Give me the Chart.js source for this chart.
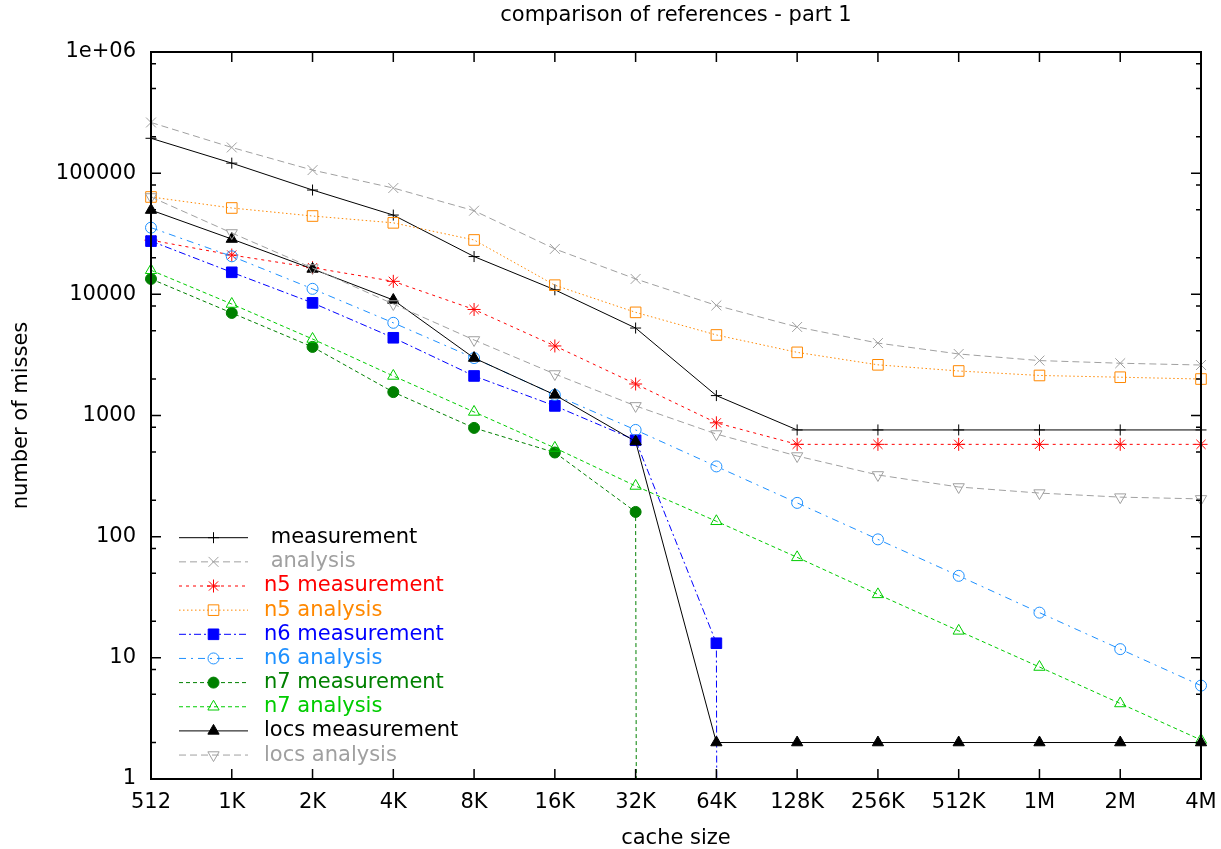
<!DOCTYPE html>
<html><head><meta charset="utf-8">
<script src="https://cdn.jsdelivr.net/npm/chart.js@4/dist/chart.umd.min.js"></script>
<style>html,body{margin:0;padding:0;background:#fff;}</style>
</head><body>
<canvas id="c" width="1221" height="849"></canvas>
<script>
// ---------- data ----------
const categories = ['512','1K','2K','4K','8K','16K','32K','64K','128K','256K','512K','1M','2M','4M'];
const measurement     = [194000,121000,72600,45100,20500,10900,5270,1460,760,760,760,760,760,760];
const analysis        = [262000,163000,106000,75400,49000,23700,13400,8100,5380,3960,3220,2840,2700,2610];
const n5Measurement   = [28000,21100,16600,12800,7500,3750,1820,870,578,578,578,578,578,578];
const n5Analysis      = [63600,51600,44300,38900,28100,11900,7100,4620,3320,2620,2330,2140,2070,2000];
const n6Measurement   = [27500,15200,8500,4380,2120,1200,625,13.2,0,null,null,null,null,null];
const n6Analysis      = [35500,20600,11100,5820,2980,1480,760,380,190,95,47.5,23.6,11.8,5.9];
const n7Measurement   = [13400,7020,3680,1560,790,495,160,0,null,null,null,null,null,null];
const n7Analysis      = [15800,8320,4280,2120,1070,540,262,134,67.5,33.4,16.7,8.4,4.2,2.1];
const locsMeasurement = [49600,28600,16200,8980,2980,1480,610,2,2,2,2,2,2,2];
const locsAnalysis    = [63600,32100,16500,8320,4200,2200,1200,703,463,323,257,229,212,205];
const yTickValues = [1,10,100,1000,10000,100000,1000000];
const yTickLabels = ['1','10','100','1000','10000','100000','1e+06'];
const yMinorSteps = [2,5,8];
const titleText = 'comparison of references - part 1';
const xTitle = 'cache size';
const yTitle = 'number of misses';

// zero misses: gnuplot sends the line toward -infinity on a log axis
const z = arr => arr.map(v => v === 0 ? 1e-300 : v);

const FONT = "'DejaVu Sans', 'Liberation Sans', sans-serif";
const GRAY = '#a0a0a0';
const series = [
  {label:' measurement', data:measurement, color:'#000000', dash:[], style:'cross', r:5.5, fill:false},
  {label:' analysis', data:analysis, color:GRAY, dash:[7,4], style:'crossRot', r:7, fill:false},
  {label:'n5 measurement', data:n5Measurement, color:'#ff0000', dash:[3,4], style:'star', r:6.5, fill:false},
  {label:'n5 analysis', data:n5Analysis, color:'#ff8800', dash:[1.5,2.5], style:'rect', r:7.5, fill:false},
  {label:'n6 measurement', data:n6Measurement, color:'#0000ff', dash:[7,3,2,3], style:'rect', r:7.5, fill:true},
  {label:'n6 analysis', data:n6Analysis, color:'#1e90ff', dash:[7,5,2,5], style:'circle', r:5.5, fill:false},
  {label:'n7 measurement', data:n7Measurement, color:'#008000', dash:[4,3], style:'circle', r:5.5, fill:true},
  {label:'n7 analysis', data:n7Analysis, color:'#00cc00', dash:[4,3], style:'triangle', r:6.5, fill:false},
  {label:'locs measurement', data:locsMeasurement, color:'#000000', dash:[], style:'triangle', r:6.5, fill:true},
  {label:'locs analysis', data:locsAnalysis, color:GRAY, dash:[7,4], style:'triangle', r:6.5, fill:false, rot:180},
];

const datasets = series.map((s,i) => ({
  label: s.label,
  data: z(s.data),
  borderColor: s.color,
  backgroundColor: s.fill ? s.color : 'rgba(0,0,0,0)',
  borderWidth: 1,
  borderDash: s.dash,
  pointStyle: s.style,
  pointRadius: s.r,
  pointRotation: s.rot || 0,
  pointBorderColor: s.color,
  pointBackgroundColor: s.fill ? s.color : 'rgba(0,0,0,0)',
  pointBorderWidth: 1,
  fill: false,
  tension: 0,
  order: -i,
  spanGaps: false
}));

const framePlugin = {
  id: 'frame',
  afterDatasetsDraw(chart) {
    const {ctx, chartArea: a, scales: {x, y}} = chart;
    ctx.save();
    ctx.strokeStyle = '#000';
    ctx.lineWidth = 1.5;
    ctx.setLineDash([]);
    ctx.beginPath();
    categories.forEach((c, i) => {
      const px = x.getPixelForValue(i);
      ctx.moveTo(px, a.bottom); ctx.lineTo(px, a.bottom - 10);
      ctx.moveTo(px, a.top); ctx.lineTo(px, a.top + 10);
    });
    yTickValues.forEach((v, k) => {
      const py = y.getPixelForValue(v);
      ctx.moveTo(a.left, py); ctx.lineTo(a.left + 10, py);
      ctx.moveTo(a.right, py); ctx.lineTo(a.right - 10, py);
      if (k < yTickValues.length - 1) {
        yMinorSteps.forEach(m => {
          const pm = y.getPixelForValue(v * m);
          ctx.moveTo(a.left, pm); ctx.lineTo(a.left + 5, pm);
          ctx.moveTo(a.right, pm); ctx.lineTo(a.right - 5, pm);
        });
      }
    });
    ctx.stroke();
    ctx.lineWidth = 2;
    ctx.strokeRect(a.left, a.top, a.right - a.left, a.bottom - a.top);
    // title centred over the plot area, as gnuplot does
    ctx.fillStyle = '#000';
    ctx.font = "21px " + FONT;
    ctx.textAlign = 'center';
    ctx.textBaseline = 'middle';
    ctx.fillText(titleText, (a.left + a.right) / 2, 16);
    ctx.restore();
  }
};

const legendPlugin = {
  id: 'gpLegend',
  afterDraw(chart) {
    const ctx = chart.ctx;
    const x0 = 179, x1 = 248, xm = 213.5, xt = 264, yStart = 537.7, dy = 24.15;
    ctx.save();
    series.forEach((s, i) => {
      const yy = yStart + i * dy;
      ctx.strokeStyle = s.color;
      ctx.lineWidth = 1;
      ctx.setLineDash(s.dash);
      ctx.beginPath(); ctx.moveTo(x0, yy); ctx.lineTo(x1, yy); ctx.stroke();
      ctx.setLineDash([]);
      ctx.fillStyle = s.fill ? s.color : 'rgba(0,0,0,0)';
      ctx.strokeStyle = s.color;
      if (Chart.helpers && Chart.helpers.drawPoint) {
        Chart.helpers.drawPoint(ctx, {pointStyle: s.style, radius: s.r, rotation: s.rot || 0, borderWidth: 1}, xm, yy);
      }
      ctx.fillStyle = s.color;
      ctx.font = "21px " + FONT;
      ctx.textBaseline = 'middle';
      ctx.textAlign = 'left';
      ctx.fillText(s.label, xt, yy);
    });
    ctx.restore();
  }
};

Chart.defaults.font.family = FONT;
Chart.defaults.color = '#000';

new Chart(document.getElementById('c'), {
  type: 'line',
  data: { labels: categories, datasets },
  options: {
    responsive: false,
    animation: false,
    devicePixelRatio: 1,
    layout: { padding: { left: 0, right: 20, top: 52, bottom: 0 } },
    plugins: {
      legend: { display: false },
      tooltip: { enabled: false },
      title: { display: false }
    },
    scales: {
      x: {
        type: 'category',
        offset: false,
        grid: { display: false, drawTicks: false },
        border: { display: false },
        ticks: { autoSkip: false, maxRotation: 0, padding: 11, color: '#000', font: { size: 21, family: FONT } },
        title: { display: true, text: xTitle, color: '#000', font: { size: 21, family: FONT, lineHeight: 1 }, padding: { top: 0, bottom: 0 } },
        afterFit(scale) { scale.height = 70; scale.paddingLeft = 0; scale.paddingRight = 0; }
      },
      y: {
        type: 'logarithmic',
        min: 1, max: 1000000,
        grid: { display: false, drawTicks: false },
        border: { display: false },
        afterBuildTicks(scale) { scale.ticks = yTickValues.map(v => ({ value: v })); },
        ticks: {
          padding: 15, color: '#000', font: { size: 21, family: FONT },
          callback(v) { const k = yTickValues.indexOf(v); return k >= 0 ? yTickLabels[k] : ''; }
        },
        title: { display: true, text: yTitle, color: '#000', font: { size: 21, family: FONT, lineHeight: 1.2 }, padding: { top: 9, bottom: 0 } },
        afterFit(scale) { scale.width = 151; scale.paddingTop = 0; scale.paddingBottom = 0; }
      }
    }
  },
  plugins: [framePlugin, legendPlugin]
});
</script>
</body></html>
